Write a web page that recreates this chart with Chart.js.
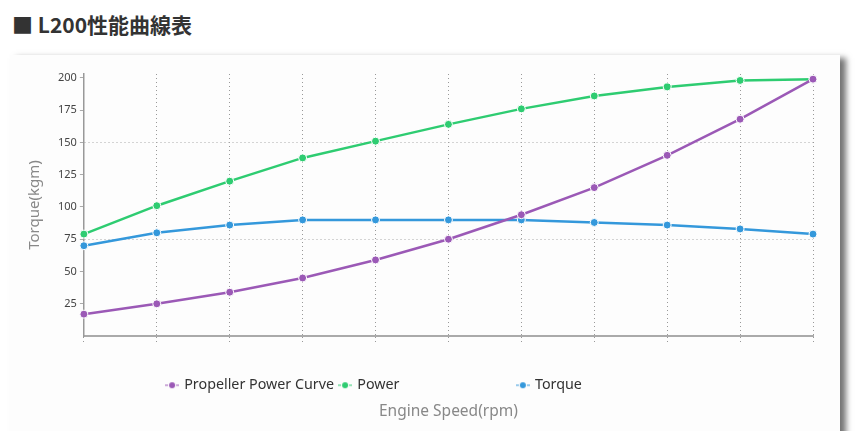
<!DOCTYPE html>
<html>
<head>
<meta charset="utf-8">
<script src="https://cdn.jsdelivr.net/npm/chart.js@4.4.0/dist/chart.umd.min.js"></script>
<style>
    body { margin: 0; background: #fff; overflow: hidden; }
    h2 { position: absolute; left: 12px; top: 9px; margin: 0; font: bold 21px "Noto Sans CJK JP"; color: #333; }
    .card { position: absolute; left: 10px; top: 55px; width: 830px; height: 400px; background: #fdfdfd; box-shadow: 6px 3px 6px rgba(0,0,0,.55); }
    .wrap { position: relative; width: 830px; height: 376px; }
</style>
</head>
<body>
<h2>■ L200性能曲線表</h2>
<div class="card"><div class="wrap"><canvas id="chart"></canvas></div></div>
<script>
// speed steps are not labelled on the original chart
var speedSteps = ['', '', '', '', '', '', '', '', '', '', ''];
var propellerCurve = [17, 25, 34, 45, 59, 75, 94, 115, 140, 168, 199];
var powerCurve = [79, 101, 120, 138, 151, 164, 176, 186, 193, 198, 199];
var torqueCurve = [70, 80, 86, 90, 90, 90, 90, 88, 86, 83, 79];
var yTicks = [25, 50, 75, 100, 125, 150, 175, 200];

var colors = ['#9b59b6', '#2ecc71', '#3498db'];

Chart.defaults.font.family = '"Noto Sans", sans-serif';

// legend marker: -o-
function makeMarker(color) {
    var c = document.createElement('canvas');
    c.width = 14; c.height = 8;
    var g = c.getContext('2d');
    g.strokeStyle = color;
    g.lineWidth = 1.2;
    g.beginPath();
    g.moveTo(0, 4); g.lineTo(3, 4);
    g.moveTo(11, 4); g.lineTo(14, 4);
    g.stroke();
    g.fillStyle = color;
    g.beginPath();
    g.arc(7, 4, 3, 0, Math.PI * 2);
    g.fill();
    return c;
}
var blank = document.createElement('canvas');
blank.width = 1; blank.height = 1;

function spacer(n) {
    return {
        text: ' '.repeat(n),
        fillStyle: 'rgba(0,0,0,0)',
        strokeStyle: 'rgba(0,0,0,0)',
        lineWidth: 0,
        pointStyle: blank,
        hidden: false
    };
}

function series(label, data, color) {
    return {
        label: label,
        data: data,
        borderColor: color,
        backgroundColor: color,
        borderWidth: 2.5,
        pointRadius: 4,
        pointBorderColor: '#fff',
        pointBorderWidth: 1,
        pointBackgroundColor: color,
        tension: 0,
        fill: false
    };
}

var ctx = document.getElementById('chart').getContext('2d');
var chart = new Chart(ctx, {
    type: 'line',
    data: {
        labels: speedSteps,
        datasets: [
            series('Propeller Power Curve', propellerCurve, colors[0]),
            series('Power', powerCurve, colors[1]),
            series('Torque', torqueCurve, colors[2])
        ]
    },
    options: {
        responsive: true,
        maintainAspectRatio: false,
        animation: false,
        layout: { padding: { left: 16, right: 27, top: 19, bottom: 1 } },
        scales: {
            x: {
                ticks: { display: false },
                grid: {
                    color: '#999',
                    tickBorderDash: [1, 3],
                    tickColor: '#999',
                    tickLength: 6
                },
                border: { color: '#aaa', width: 2, dash: [1, 3] },
                afterFit: function (scale) { scale.height += 30; }
            },
            y: {
                min: 0,
                max: 203,
                afterBuildTicks: function (scale) {
                    scale.ticks = yTicks.map(function (v) { return { value: v }; });
                },
                ticks: { color: '#444', font: { size: 11 }, padding: 3 },
                grid: {
                    color: function (c) {
                        return c.tick && c.tick.value % 75 === 0 ? '#aaa' : 'rgba(0,0,0,0)';
                    },
                    tickBorderDash: [],
                    tickColor: '#aaa',
                    tickLength: 4
                },
                border: { color: '#999', width: 1.5, dash: [1, 3] },
                title: {
                    display: true,
                    text: 'Torque(kgm)',
                    color: '#888',
                    font: { size: 15 },
                    padding: { top: 0, bottom: 11 }
                }
            }
        },
        plugins: {
            legend: {
                position: 'bottom',
                onClick: function () {},
                labels: {
                    color: '#333',
                    font: { size: 14.3 },
                    padding: 6,
                    usePointStyle: true,
                    pointStyleWidth: 10,
                    generateLabels: function (chart) {
                        var items = Chart.defaults.plugins.legend.labels.generateLabels(chart);
                        items.forEach(function (it) { it.pointStyle = makeMarker(colors[it.datasetIndex]); });
                        items.splice(2, 0, spacer(24));
                        items.push(spacer(18));
                        return items;
                    }
                }
            },
            title: {
                display: true,
                text: 'Engine Speed(rpm)',
                position: 'bottom',
                fullSize: false,
                color: '#888',
                font: { size: 15.5, weight: 'normal' },
                padding: { top: 0, bottom: 9 }
            },
            tooltip: { enabled: false }
        }
    }
});
</script>
</body>
</html>
